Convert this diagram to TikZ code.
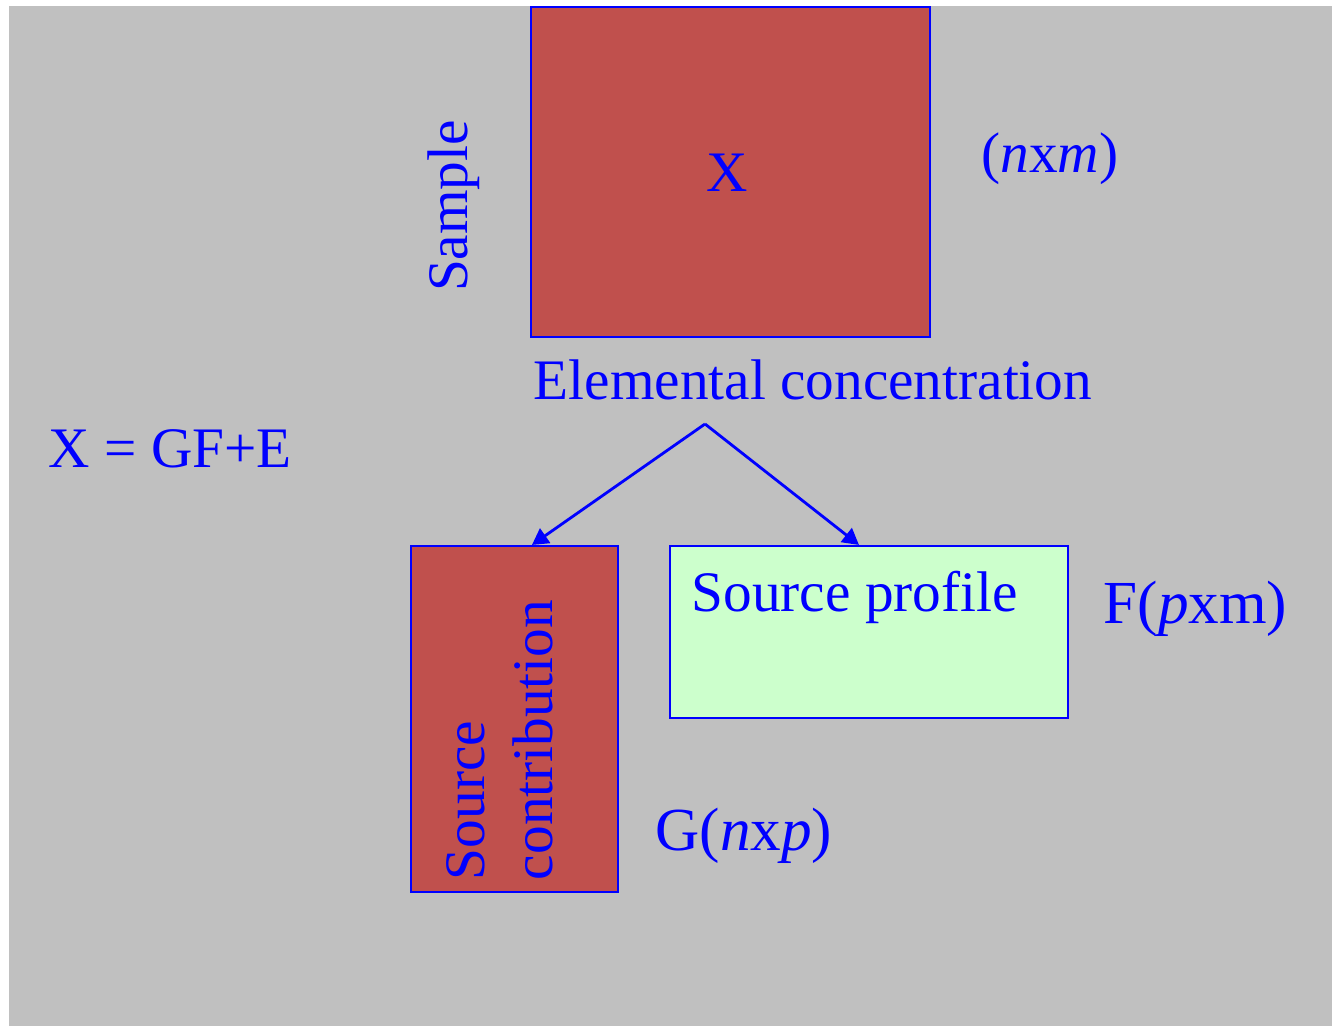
\documentclass[tikz,border=0pt]{standalone}
\usepackage{fontspec}
\setmainfont{Liberation Serif}
\definecolor{Bgcol}{HTML}{C0C0C0}
\definecolor{Matcol}{HTML}{C0504D}
\definecolor{Profcol}{HTML}{CCFFCC}
\definecolor{Textcol}{HTML}{0000FF}
\usetikzlibrary{arrows.meta, positioning}
\tikzset{
    >={Triangle[length=4.6pt, width=5pt]},
    every node/.style={text=Textcol, inner sep=0pt, font=\fontsize{16.3}{19.3}\selectfont},
    matbox/.style={draw=Textcol, line width=0.6pt},
    dimlabel/.style={anchor=base west, font=\fontsize{17.4}{20}\selectfont}
}

\begin{document}
\begin{tikzpicture}
    \useasboundingbox (0,0) rectangle (13.32,-10.26);
    % Background
    \fill[Bgcol] (0.09,-0.06) rectangle (13.32,-10.26);

    % Data matrix
    \node[matbox, fill=Matcol, minimum width=3.99cm, minimum height=3.30cm] (Xbox) at (7.305,-1.72) {};
    \node[anchor=base] (Xname) at (7.27,-1.92) {X};
    \node[rotate=90, anchor=base] (sample) at (4.67,-2.06) {Sample};
    \node[anchor=base] (Xdim) at (10.50,-1.73) {(\textit{n}x\textit{m})};
    \node[anchor=base west] (elem) at (5.33,-4.00) {Elemental concentration};

    % Model
    \node[anchor=base west] (model) at (0.48,-4.68) {X = GF+E};

    % Factor matrices
    \node[matbox, fill=Matcol, minimum width=2.07cm, minimum height=3.46cm] (Gbox) at (5.145,-7.19) {};
    \node[rotate=90, align=left] (Glabel) at (4.995,-7.40) {Source\\contribution};
    \node[dimlabel] (Gdim) at (6.55,-8.50) {G(\textit{n}x\textit{p})};

    \node[matbox, fill=Profcol, minimum width=3.98cm, minimum height=1.72cm] (Fbox) at (8.69,-6.32) {};
    \node[anchor=base west] (Flabel) at (6.91,-6.11) {Source profile};
    \node[dimlabel] (Fdim) at (11.03,-6.23) {F(\textit{p}xm)};

    % Arrows
    \coordinate (apex) at (7.05,-4.24);
    \draw[->, Textcol, line width=0.8pt] (apex) -- ([xshift=1.22cm]Gbox.north west);
    \draw[->, Textcol, line width=0.8pt] (apex) -- ([xshift=1.90cm]Fbox.north west);
\end{tikzpicture}
\end{document}
